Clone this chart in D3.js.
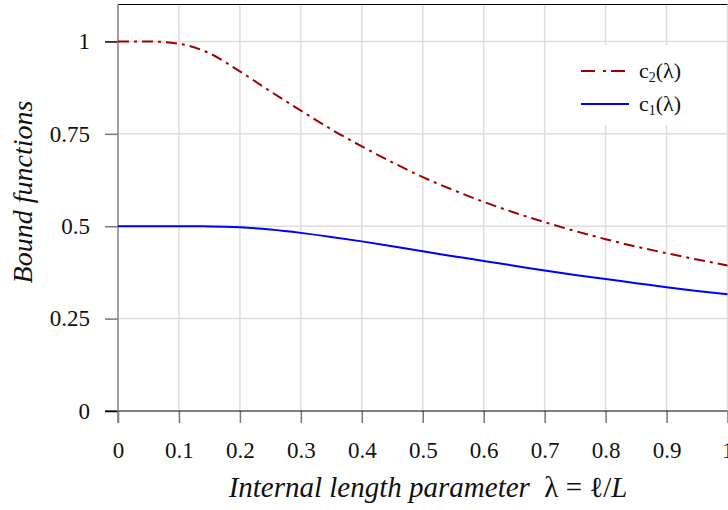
<!DOCTYPE html>
<html>
<head>
<meta charset="utf-8">
<script src="https://cdn.jsdelivr.net/npm/d3@7"></script>
<style>
  body { margin: 0; background: #fff; }
  svg { display: block; font-family: "Liberation Serif", "DejaVu Serif", serif; }
</style>
</head>
<body>
<div id="chart"></div>
<script>
const lambdas = [0, 0.05, 0.1, 0.15, 0.2, 0.25, 0.3, 0.35, 0.4, 0.45, 0.5,
                 0.55, 0.6, 0.65, 0.7, 0.75, 0.8, 0.85, 0.9, 0.95, 1];
const c2Values = [1.000, 1.000, 0.994, 0.968, 0.919, 0.865, 0.813, 0.762, 0.716, 0.673, 0.633,
                  0.598, 0.566, 0.537, 0.511, 0.487, 0.465, 0.445, 0.427, 0.410, 0.394];
const c1Values = [0.500, 0.500, 0.500, 0.4995, 0.497, 0.491, 0.482, 0.471, 0.459, 0.446, 0.432,
                  0.419, 0.406, 0.393, 0.380, 0.368, 0.357, 0.346, 0.335, 0.325, 0.316];
const xTicks = [0, 0.1, 0.2, 0.3, 0.4, 0.5, 0.6, 0.7, 0.8, 0.9, 1];
const yTicks = [0, 0.25, 0.5, 0.75, 1];
const seriesNames = ["c2", "c1"];

const width = 728, height = 510;
const margin = { top: 4.5, right: 0.5, bottom: 99, left: 118 };

const svg = d3.select("#chart").append("svg")
    .attr("width", width)
    .attr("height", height);

const x = d3.scaleLinear()
    .domain([0, 1])
    .range([margin.left, width - margin.right]);

const y = d3.scaleLinear()
    .domain([0, 1.1])
    .range([height - margin.bottom, margin.top]);

// grid
svg.append("g")
    .selectAll("line")
    .data(xTicks.slice(1))
    .join("line")
    .attr("x1", d => x(d)).attr("x2", d => x(d))
    .attr("y1", y(1.1)).attr("y2", y(0))
    .attr("stroke", "#dedede")
    .attr("stroke-width", 1.5);

svg.append("g")
    .selectAll("line")
    .data(yTicks.slice(1))
    .join("line")
    .attr("x1", x(0)).attr("x2", x(1))
    .attr("y1", d => y(d)).attr("y2", d => y(d))
    .attr("stroke", "#dedede")
    .attr("stroke-width", 1.5);

// top border
svg.append("line")
    .attr("x1", x(0)).attr("x2", x(1))
    .attr("y1", y(1.1)).attr("y2", y(1.1))
    .attr("stroke", "#000")
    .attr("stroke-width", 1);

// x axis
const xAxis = svg.append("g")
    .attr("transform", `translate(0,${y(0)})`)
    .call(d3.axisBottom(x).tickValues(xTicks).tickFormat(d3.format("")).tickSize(12));
xAxis.select(".domain").remove();
xAxis.selectAll(".tick line").attr("stroke", "#777").attr("stroke-width", 1.5);
xAxis.selectAll(".tick text")
    .attr("font-size", 23)
    .attr("fill", "#111")
    .attr("font-family", "Liberation Serif")
    .attr("y", 47)
    .attr("dy", null);
xAxis.append("line")
    .attr("x1", x(0) - 13).attr("x2", x(1))
    .attr("stroke", "#000").attr("stroke-width", 1);

// y axis
const yAxis = svg.append("g")
    .attr("transform", `translate(${x(0)},0)`)
    .call(d3.axisLeft(y).tickValues(yTicks).tickFormat(d3.format("")).tickSize(13).tickPadding(15));
yAxis.select(".domain").remove();
yAxis.selectAll(".tick line")
    .attr("stroke", d => (d === 0 || d === 1) ? "#000" : "#777")
    .attr("stroke-width", 1.5);
yAxis.selectAll(".tick text")
    .attr("font-size", 23)
    .attr("fill", "#111")
    .attr("font-family", "Liberation Serif");
yAxis.append("line")
    .attr("y1", y(1.1)).attr("y2", y(0) + 12)
    .attr("stroke", "#808080").attr("stroke-width", 1.5);

// curves
const line = d3.line()
    .x((d, i) => x(lambdas[i]))
    .y(d => y(d))
    .curve(d3.curveMonotoneX);

svg.append("path")
    .datum(c1Values)
    .attr("fill", "none")
    .attr("stroke", "#0000ff")
    .attr("stroke-width", 2)
    .attr("d", line);

svg.append("path")
    .datum(c2Values)
    .attr("fill", "none")
    .attr("stroke", "#a00000")
    .attr("stroke-width", 2)
    .attr("stroke-dasharray", "11,5,3,5")
    .attr("d", line);

// legend
const legend = svg.append("g");
legend.append("rect")
    .attr("x", 565).attr("y", 45)
    .attr("width", 160).attr("height", 80)
    .attr("fill", "#fff");

const legendItems = [
    { name: seriesNames[0], sub: "2", color: "#a00000", dash: "14,8,3,5", yPos: 71 },
    { name: seriesNames[1], sub: "1", color: "#0000ff", dash: null, yPos: 104 }
];

legendItems.forEach(item => {
    legend.append("line")
        .attr("x1", 581).attr("x2", 629)
        .attr("y1", item.yPos).attr("y2", item.yPos)
        .attr("stroke", item.color)
        .attr("stroke-width", 2)
        .attr("stroke-dasharray", item.dash);

    const t = legend.append("text")
        .attr("x", 639).attr("y", item.yPos + 7)
        .attr("font-size", 22)
        .attr("fill", "#111");
    t.append("tspan").text("c");
    t.append("tspan").attr("font-size", 14).attr("dy", 4).text(item.sub);
    t.append("tspan").attr("dy", -4).text("(λ)");
});

// axis titles
const xTitle = svg.append("text")
    .attr("x", 428).attr("y", 497)
    .attr("text-anchor", "middle")
    .attr("font-size", 29)
    .attr("fill", "#111");
xTitle.append("tspan").attr("font-style", "italic").text("Internal length parameter\u00a0\u00a0");
xTitle.append("tspan").text("λ\u00a0=\u00a0ℓ/");
xTitle.append("tspan").attr("font-style", "italic").text("L");

svg.append("text")
    .attr("transform", `translate(32,192) rotate(-90)`)
    .attr("text-anchor", "middle")
    .attr("font-size", 28)
    .attr("font-style", "italic")
    .attr("fill", "#111")
    .text("Bound functions");
</script>
</body>
</html>
